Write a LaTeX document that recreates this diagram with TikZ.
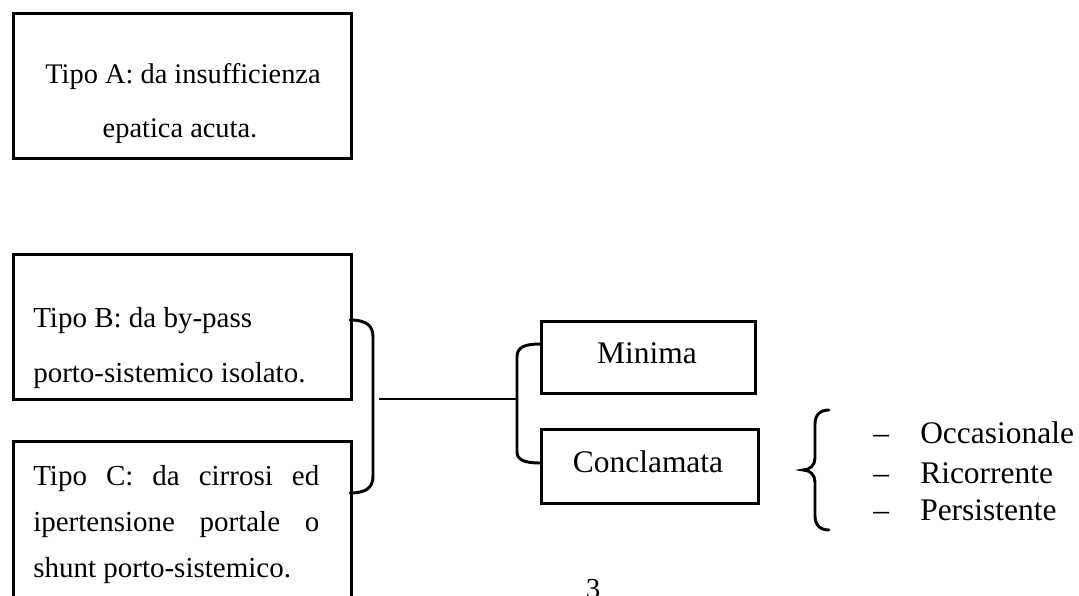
\documentclass[tikz,border=0pt]{standalone}
\usepackage{fontspec}
\setmainfont{Liberation Serif}
\begin{document}
\begin{tikzpicture}[x=0.75pt,y=-0.75pt,
  box/.style={draw, line width=2.3pt, anchor=north west, inner sep=0pt},
  ltxt/.style={font=\fontsize{21.75}{26}\selectfont, inner sep=0pt},
  atxt/.style={font=\fontsize{21.3}{26}\selectfont, inner sep=0pt},
  rtxt/.style={font=\fontsize{23.6}{28}\selectfont, inner sep=0pt},
  link/.style={line width=2.2pt, line cap=round},
  thinlink/.style={line width=1.7pt}]
\clip (0,0) rectangle (1079,596);
\fill[white] (0,0) rectangle (1079,596);
% left boxes
\node[box, minimum width=338*0.75pt, minimum height=145*0.75pt] (A) at (12,12) {};
\node[box, minimum width=338*0.75pt, minimum height=145*0.75pt] (B) at (12,253) {};
\node[box, minimum width=338*0.75pt, minimum height=190*0.75pt] (C) at (12,440) {};
% texts
\node[atxt, anchor=base] (A1) at (183,83) {Tipo A: da insufficienza};
\node[atxt, anchor=base] (A2) at (180,137) {epatica acuta.};
\node[ltxt, anchor=base west] (B1) at (33,327) {Tipo B: da by-pass};
\node[ltxt, anchor=base west] (B2) at (33,382) {porto-sistemico isolato.};
\node[ltxt, anchor=base west] (C1) at (33,485) {\makebox[214.5pt][s]{Tipo C: da cirrosi ed}};
\node[ltxt, anchor=base west] (C2) at (33,531) {\makebox[214.5pt][s]{ipertensione portale o}};
\node[ltxt, anchor=base west] (C3) at (33,577) {shunt porto-sistemico.};
% right boxes
\node[box, minimum width=214*0.75pt, minimum height=72*0.75pt] (M) at (540,320) {};
\node[box, minimum width=217*0.75pt, minimum height=74*0.75pt] (K) at (540,428) {};
\node[rtxt, anchor=base] (M1) at (647,363) {Minima};
\node[rtxt, anchor=base] (K1) at (648,472) {Conclamata};
% list
\node[rtxt, anchor=base west] (d1) at (873,443) {–};
\node[rtxt, anchor=base west] (d2) at (873,483) {–};
\node[rtxt, anchor=base west] (d3) at (873,520) {–};
\node[rtxt, anchor=base west] (L1) at (920,443) {Occasionale};
\node[rtxt, anchor=base west] (L2) at (920,483) {Ricorrente};
\node[rtxt, anchor=base west] (L3) at (920,520) {Persistente};
% page number
\node[ltxt, anchor=north] (pg) at (593,579) {3};
% bracket joining B and C
\coordinate (bcT) at (350,320);
\coordinate (bcB) at (350,493);
\draw[link] (bcT) .. controls (367,320) and (373,326) .. (373,337) -- (373,476) .. controls (373,487) and (367,493) .. (bcB);
% connector
\coordinate (hl) at (379,399);
\coordinate (hr) at (517,399);
\draw[thinlink] (hl) -- (hr);
% bracket joining Minima and Conclamata
\coordinate (mkT) at (540,344);
\coordinate (mkB) at (540,463);
\draw[link] (mkT) .. controls (525,344) and (517,347) .. (517,357) -- (517,452) .. controls (517,460) and (525,463) .. (mkB);
% curly brace
\draw[link] (829,410) .. controls (820,410) and (815,415) .. (815,424) -- (815,458) .. controls (815,465) and (810,470) .. (803,470) .. controls (810,470) and (815,475) .. (815,482) -- (815,516) .. controls (815,525) and (820,530) .. (829,530);
\end{tikzpicture}
\end{document}
